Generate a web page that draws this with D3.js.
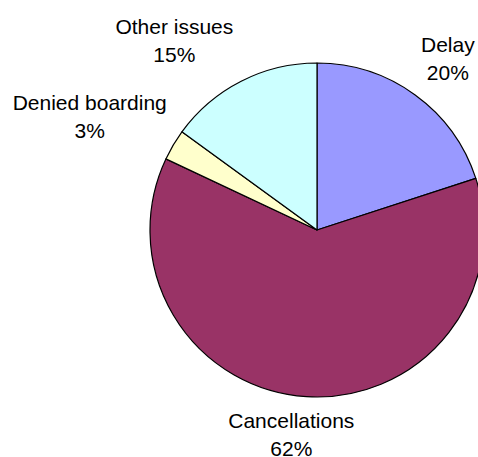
<!DOCTYPE html>
<html>
<head>
<meta charset="utf-8">
<script src="https://cdn.jsdelivr.net/npm/d3@7/dist/d3.min.js"></script>
<style>
  html, body { margin: 0; padding: 0; background: #fff; }
  svg { display: block; }
</style>
</head>
<body>
<svg id="chart" width="478" height="457"></svg>
<script>
// Data
const categories = ["Delay", "Cancellations", "Denied boarding", "Other issues"];
const shares = [20, 62, 3, 15];
const colors = ["#9999FF", "#993366", "#FFFFCC", "#CCFFFF"];

// Layout (label nudges in px, per slice, separate from data)
const labelNudgeX = [5, -10, 0, -31];
const labelNudgeY = [0, -8, -5, 0];

const W = 478, H = 457;
const cx = 317, cy = 230, radius = 167;
const fontSize = 21, lineH = 28;

const svg = d3.select("#chart");
const g = svg.append("g").attr("transform", `translate(${cx},${cy})`);

const data = categories.map((c, i) => ({ name: c, value: shares[i], color: colors[i], i }));
const pie = d3.pie().value(d => d.value).sort(null);
const arcs = pie(data);
const arc = d3.arc().innerRadius(0).outerRadius(radius);

g.selectAll("path.slice")
  .data(arcs)
  .join("path")
  .attr("class", "slice")
  .attr("d", arc)
  .attr("fill", d => d.data.color)
  .attr("stroke", "#000")
  .attr("stroke-width", 1.2)
  .attr("stroke-linejoin", "round");

const total = d3.sum(shares);
const fmt = v => Math.round(v / total * 100) + "%";

// labels
const labelR = radius + 20;
const lg = g.selectAll("g.lab").data(arcs).join("g").attr("class", "lab");
lg.each(function(d) {
  const sel = d3.select(this);
  const t = sel.append("text")
    .attr("font-family", "'Liberation Sans', Arial, sans-serif")
    .attr("font-size", fontSize)
    .attr("fill", "#000")
    .attr("text-anchor", "middle");
  t.append("tspan").attr("x", 0).attr("dy", 0).text(d.data.name);
  t.append("tspan").attr("x", 0).attr("dy", lineH).text(fmt(d.data.value));
  const bb = t.node().getBBox();
  const w = bb.width, h = bb.height;
  const a = (d.startAngle + d.endAngle) / 2;
  const px = labelR * Math.sin(a), py = -labelR * Math.cos(a);
  const bx = px + Math.sin(a) * w / 2 + labelNudgeX[d.data.i];
  const by = py - Math.cos(a) * h / 2 + labelNudgeY[d.data.i];
  const dy = by - (bb.y + h / 2);
  t.attr("transform", `translate(${bx},${dy})`);
});
</script>
</body>
</html>
